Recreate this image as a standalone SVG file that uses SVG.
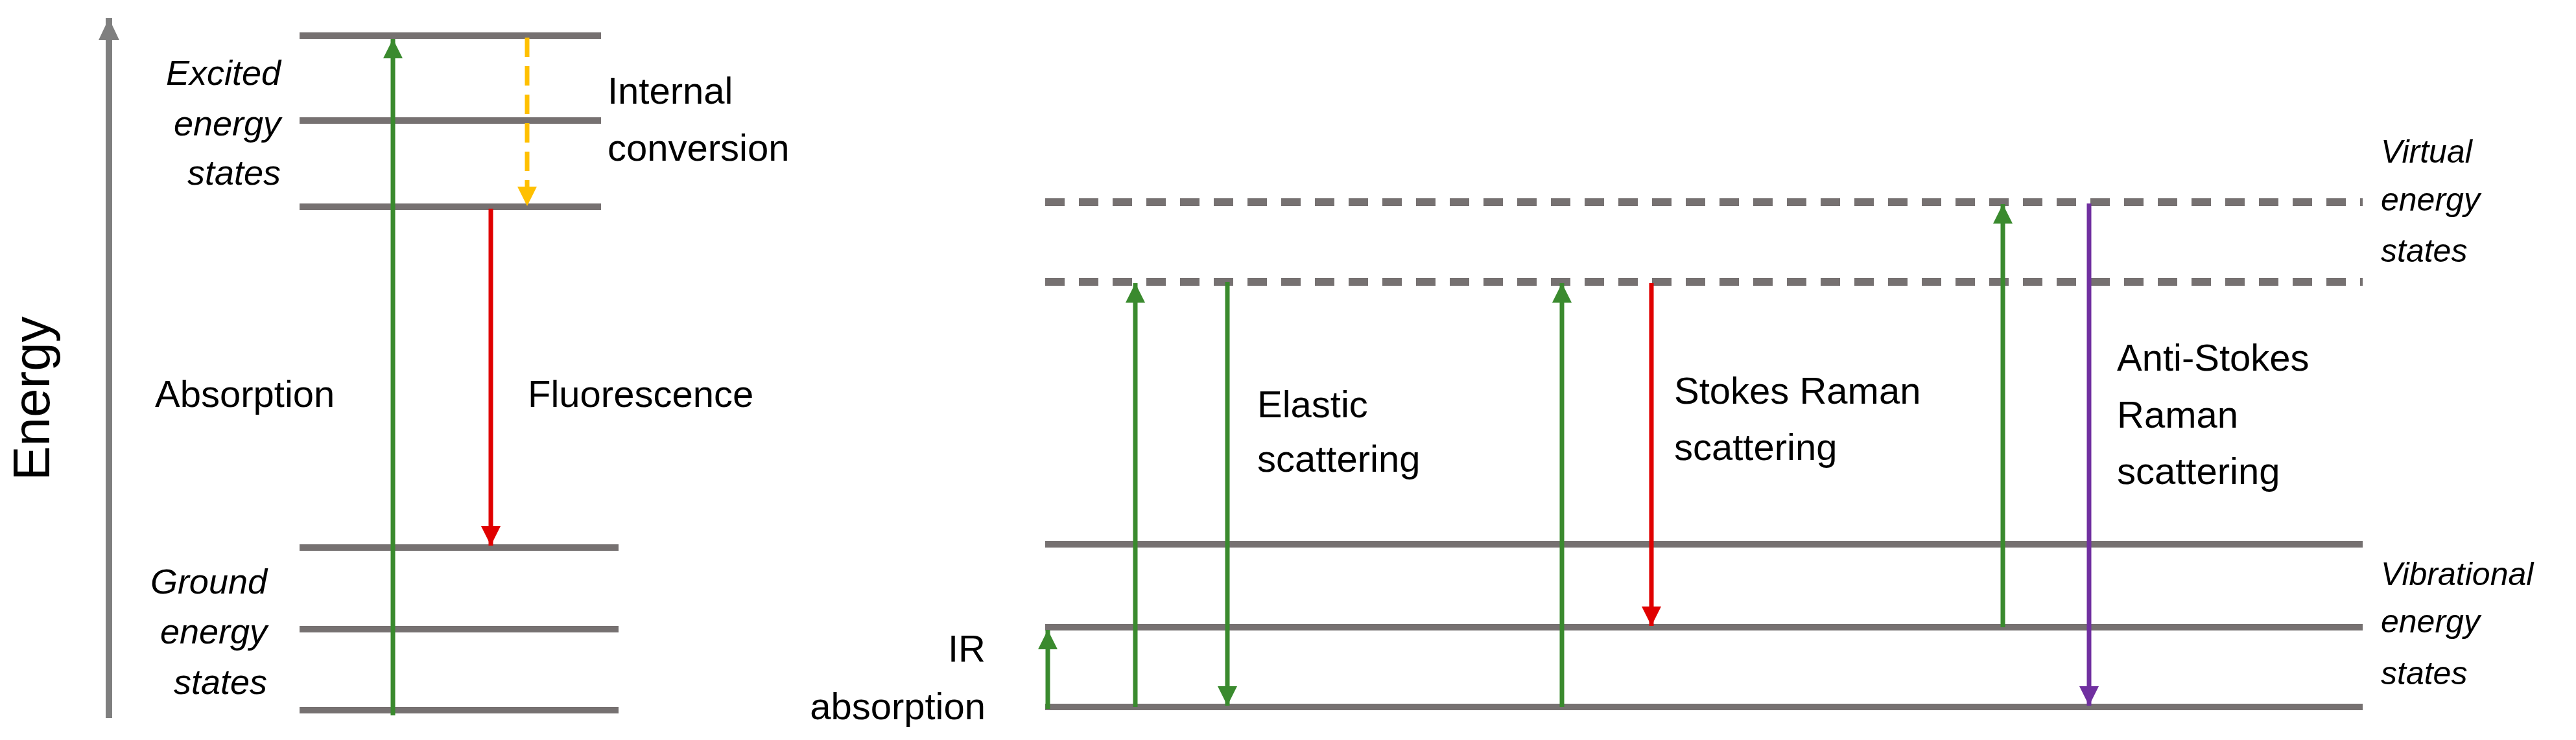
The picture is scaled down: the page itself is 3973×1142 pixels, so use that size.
<svg xmlns="http://www.w3.org/2000/svg" width="3973" height="1142" viewBox="0 0 3973 1142">
<style>
.lv{stroke:#767171;stroke-width:10;fill:none}
.vd{stroke:#767171;stroke-width:12;fill:none;stroke-dasharray:30 22}
.t{font-family:"Liberation Sans",Arial,sans-serif;font-size:58px;fill:#000}
.i{font-style:italic;font-size:54px}
.g{stroke:#3a8a2e;stroke-width:7;fill:none}
</style>
<defs>
<marker id="ag" markerUnits="userSpaceOnUse" markerWidth="30" markerHeight="40" refX="30" refY="15" orient="auto"><path d="M0,0L30,15L0,30z" fill="#3a8a2e"/></marker>
<marker id="ar" markerUnits="userSpaceOnUse" markerWidth="30" markerHeight="40" refX="30" refY="15" orient="auto"><path d="M0,0L30,15L0,30z" fill="#e00000"/></marker>
<marker id="ay" markerUnits="userSpaceOnUse" markerWidth="30" markerHeight="40" refX="30" refY="15" orient="auto"><path d="M0,0L30,15L0,30z" fill="#ffc000"/></marker>
<marker id="ap" markerUnits="userSpaceOnUse" markerWidth="30" markerHeight="40" refX="30" refY="15" orient="auto"><path d="M0,0L30,15L0,30z" fill="#7030a0"/></marker>
<marker id="ax" markerUnits="userSpaceOnUse" markerWidth="34" markerHeight="40" refX="34" refY="16" orient="auto"><path d="M0,0L34,16L0,32z" fill="#7f7f7f"/></marker>
</defs>
<g id="axis">
<line x1="168" y1="1108" x2="168" y2="28" stroke="#7f7f7f" stroke-width="10" marker-end="url(#ax)"/>
<text class="t" font-size="80" transform="translate(76,615) rotate(-90)" text-anchor="middle" style="font-size:80px">Energy</text>
</g>
<g id="levels-left">
<line class="lv" x1="462" y1="55" x2="927" y2="55"/>
<line class="lv" x1="462" y1="186" x2="927" y2="186"/>
<line class="lv" x1="462" y1="319" x2="927" y2="319"/>
<line class="lv" x1="462" y1="845" x2="954" y2="845"/>
<line class="lv" x1="462" y1="971" x2="954" y2="971"/>
<line class="lv" x1="462" y1="1096" x2="954" y2="1096"/>
<text class="t i" text-anchor="end"><tspan x="433" y="131">Excited</tspan><tspan x="433" y="209">energy</tspan><tspan x="433" y="285">states</tspan></text>
<text class="t i" text-anchor="end"><tspan x="412" y="916">Ground</tspan><tspan x="412" y="993">energy</tspan><tspan x="412" y="1071">states</tspan></text>
</g>
<g id="levels-right">
<line class="vd" x1="1612" y1="312" x2="3644" y2="312"/>
<line class="vd" x1="1612" y1="435" x2="3644" y2="435"/>
<line class="lv" x1="1612" y1="840" x2="3644" y2="840"/>
<line class="lv" x1="1612" y1="968" x2="3644" y2="968"/>
<line class="lv" x1="1612" y1="1091" x2="3644" y2="1091"/>
<text class="t i" style="font-size:50px"><tspan x="3672" y="251">Virtual</tspan><tspan x="3672" y="325">energy</tspan><tspan x="3672" y="404">states</tspan></text>
<text class="t i" style="font-size:50px"><tspan x="3672" y="903">Vibrational</tspan><tspan x="3672" y="976">energy</tspan><tspan x="3672" y="1056">states</tspan></text>
</g>
<g id="connectors">
<line class="g" x1="606" y1="1104" x2="606" y2="60" marker-end="url(#ag)"/>
<line x1="813" y1="58" x2="813" y2="318" stroke="#ffc000" stroke-width="7" stroke-dasharray="30 14" marker-end="url(#ay)"/>
<line x1="757" y1="322" x2="757" y2="842" stroke="#e00000" stroke-width="7" marker-end="url(#ar)"/>
<line class="g" x1="1616" y1="1094" x2="1616" y2="972" marker-end="url(#ag)"/>
<line class="g" x1="1751" y1="1091" x2="1751" y2="437" marker-end="url(#ag)"/>
<line class="g" x1="1893" y1="435" x2="1893" y2="1089" marker-end="url(#ag)"/>
<line class="g" x1="2409" y1="1091" x2="2409" y2="437" marker-end="url(#ag)"/>
<line x1="2547" y1="437" x2="2547" y2="966" stroke="#e00000" stroke-width="7" marker-end="url(#ar)"/>
<line class="g" x1="3089" y1="968" x2="3089" y2="315" marker-end="url(#ag)"/>
<line x1="3222" y1="314" x2="3222" y2="1089" stroke="#7030a0" stroke-width="7" marker-end="url(#ap)"/>
</g>
<g id="labels">
<text class="t"><tspan x="937" y="160">Internal</tspan><tspan x="937" y="248">conversion</tspan></text>
<text class="t" x="239" y="628">Absorption</text>
<text class="t" x="814" y="628">Fluorescence</text>
<text class="t" text-anchor="end"><tspan x="1520" y="1021">IR</tspan><tspan x="1520" y="1110">absorption</tspan></text>
<text class="t"><tspan x="1939" y="644">Elastic</tspan><tspan x="1939" y="728">scattering</tspan></text>
<text class="t"><tspan x="2582" y="623">Stokes Raman</tspan><tspan x="2582" y="710">scattering</tspan></text>
<text class="t"><tspan x="3265" y="572">Anti-Stokes</tspan><tspan x="3265" y="660">Raman</tspan><tspan x="3265" y="747">scattering</tspan></text>
</g>
</svg>
